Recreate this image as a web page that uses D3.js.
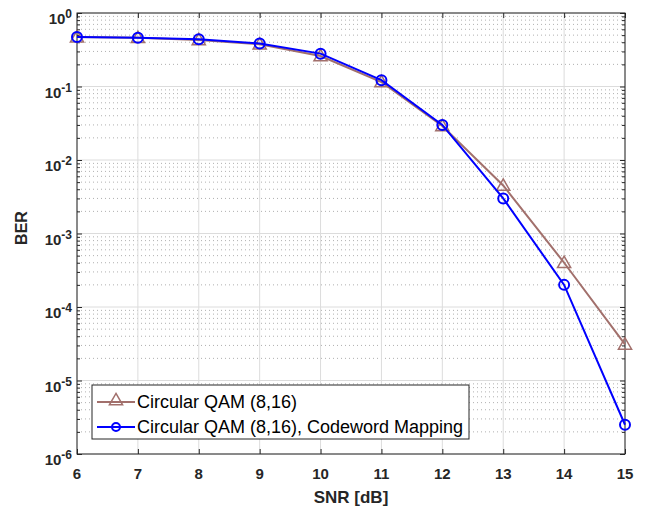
<!DOCTYPE html>
<html>
<head>
<meta charset="utf-8">
<script src="https://cdn.jsdelivr.net/npm/d3@7"></script>
<style>
  body { margin: 0; background: #fff; }
  svg { display: block; font-family: "Liberation Sans", Arial, sans-serif; }
  .tick-label { font-size: 15px; font-weight: bold; fill: #262626; }
</style>
</head>
<body>
<div id="chart"></div>
<script>
const snr = [6, 7, 8, 9, 10, 11, 12, 13, 14, 15];
const berCircular = [0.47, 0.46, 0.43, 0.375, 0.26, 0.115, 0.029, 0.0045, 0.0004, 0.000031];
const berCodeword = [0.47, 0.46, 0.44, 0.385, 0.28, 0.122, 0.030, 0.003, 0.0002, 0.0000025];
const xTicks = [6, 7, 8, 9, 10, 11, 12, 13, 14, 15];
const yDecades = [0, -1, -2, -3, -4, -5, -6];
const seriesNames = ['Circular QAM (8,16)', 'Circular QAM (8,16), Codeword Mapping'];

const W = 646, H = 511;
const margin = { top: 13, right: 21, bottom: 57, left: 77 };
const width = W - margin.left - margin.right;
const height = H - margin.top - margin.bottom;

const svg = d3.select('#chart').append('svg')
    .attr('width', W).attr('height', H);
const g = svg.append('g').attr('transform', `translate(${margin.left},${margin.top})`);

const x = d3.scaleLinear().domain([6, 15]).range([0, width]);
const y = d3.scaleLog().domain([1e-6, 1]).range([height, 0]);

// minor grid (dotted)
const minors = [];
for (let e = -6; e < 0; e++) {
    for (let k = 2; k <= 9; k++) minors.push(k * Math.pow(10, e));
}
g.append('g').selectAll('line').data(minors).enter().append('line')
    .attr('x1', 0).attr('x2', width)
    .attr('y1', d => y(d)).attr('y2', d => y(d))
    .attr('stroke', '#b0b0b0').attr('stroke-width', 1)
    .attr('stroke-dasharray', '1,3');

// major grid
g.append('g').selectAll('line').data(yDecades).enter().append('line')
    .attr('x1', 0).attr('x2', width)
    .attr('y1', d => y(Math.pow(10, d))).attr('y2', d => y(Math.pow(10, d)))
    .attr('stroke', '#dcdcdc').attr('stroke-width', 1);
g.append('g').selectAll('line').data(xTicks).enter().append('line')
    .attr('y1', 0).attr('y2', height)
    .attr('x1', d => x(d)).attr('x2', d => x(d))
    .attr('stroke', '#dcdcdc').attr('stroke-width', 1);

// axes with inward ticks
const axisColor = '#262626';
const xb = g.append('g').attr('transform', `translate(0,${height})`)
    .call(d3.axisBottom(x).tickValues(xTicks).tickSize(-5).tickFormat(''));
const xt = g.append('g')
    .call(d3.axisTop(x).tickValues(xTicks).tickSize(-5).tickFormat(''));
const yl = g.append('g')
    .call(d3.axisLeft(y).tickValues(yDecades.map(d => Math.pow(10, d))).tickSize(-5).tickFormat(''));
const yr = g.append('g').attr('transform', `translate(${width},0)`)
    .call(d3.axisRight(y).tickValues(yDecades.map(d => Math.pow(10, d))).tickSize(-5).tickFormat(''));
const yl2 = g.append('g')
    .call(d3.axisLeft(y).tickValues(minors).tickSize(-3).tickFormat(''));
const yr2 = g.append('g').attr('transform', `translate(${width},0)`)
    .call(d3.axisRight(y).tickValues(minors).tickSize(-3).tickFormat(''));
[xb, xt, yl, yr, yl2, yr2].forEach(a => {
    a.selectAll('path').attr('stroke', axisColor).attr('stroke-width', 1).attr('d', null);
    a.selectAll('line').attr('stroke', axisColor);
});
g.append('rect').attr('width', width).attr('height', height)
    .attr('fill', 'none').attr('stroke', axisColor).attr('stroke-width', 1);

// tick labels
g.append('g').selectAll('text').data(xTicks).enter().append('text')
    .attr('class', 'tick-label')
    .attr('x', d => x(d)).attr('y', height + 25)
    .attr('text-anchor', 'middle')
    .text(d => d);

const yLab = g.append('g').selectAll('text').data(yDecades).enter().append('text')
    .attr('class', 'tick-label')
    .attr('x', -5).attr('y', d => y(Math.pow(10, d)) + 11)
    .attr('text-anchor', 'end');
yLab.append('tspan').text('10');
yLab.append('tspan').attr('dy', -6).attr('font-size', 12).text(d => d);

// axis titles
svg.append('text').attr('x', margin.left + width / 2).attr('y', 503)
    .attr('text-anchor', 'middle').attr('font-size', 17).attr('font-weight', 'bold')
    .attr('fill', '#262626').text('SNR [dB]');
svg.append('text').attr('transform', `translate(27,228) rotate(-90)`)
    .attr('text-anchor', 'middle').attr('font-size', 16).attr('font-weight', 'bold')
    .attr('fill', '#262626').text('BER');

// series
const brown = '#a2706c', blue = '#0000ff';
const line = d3.line().x(d => x(d[0])).y(d => y(d[1]));
const dataA = snr.map((s, i) => [s, berCircular[i]]);
const dataB = snr.map((s, i) => [s, berCodeword[i]]);
const tri = d3.symbol().type(d3.symbolTriangle).size(75);

g.append('path').datum(dataA).attr('d', line)
    .attr('fill', 'none').attr('stroke', brown).attr('stroke-width', 2);
g.append('g').selectAll('path').data(dataA).enter().append('path')
    .attr('d', tri).attr('transform', d => `translate(${x(d[0])},${y(d[1]) + 1})`)
    .attr('fill', 'none').attr('stroke', brown).attr('stroke-width', 1.5);

g.append('path').datum(dataB).attr('d', line)
    .attr('fill', 'none').attr('stroke', blue).attr('stroke-width', 2);
g.append('g').selectAll('circle').data(dataB).enter().append('circle')
    .attr('cx', d => x(d[0])).attr('cy', d => y(d[1])).attr('r', 5)
    .attr('fill', 'none').attr('stroke', blue).attr('stroke-width', 2);

// legend
const lg = svg.append('g').attr('transform', 'translate(92,385)');
lg.append('rect').attr('width', 377).attr('height', 54)
    .attr('fill', '#fff').attr('stroke', axisColor).attr('stroke-width', 1);
const items = [
    { name: seriesNames[0], color: brown, marker: 'tri' },
    { name: seriesNames[1], color: blue, marker: 'circle' }
];
items.forEach((it, i) => {
    const cy = 17 + i * 25;
    lg.append('line').attr('x1', 5).attr('x2', 43).attr('y1', cy).attr('y2', cy)
        .attr('stroke', it.color).attr('stroke-width', 2);
    if (it.marker === 'tri') {
        lg.append('path').attr('d', tri).attr('transform', `translate(24,${cy - 1})`)
            .attr('fill', 'none').attr('stroke', it.color).attr('stroke-width', 1.5);
    } else {
        lg.append('circle').attr('cx', 24).attr('cy', cy).attr('r', 4)
            .attr('fill', 'none').attr('stroke', it.color).attr('stroke-width', 2);
    }
    lg.append('text').attr('x', 45).attr('y', cy + 6)
        .attr('font-size', 18).attr('fill', '#000').text(it.name);
});
</script>
</body>
</html>
